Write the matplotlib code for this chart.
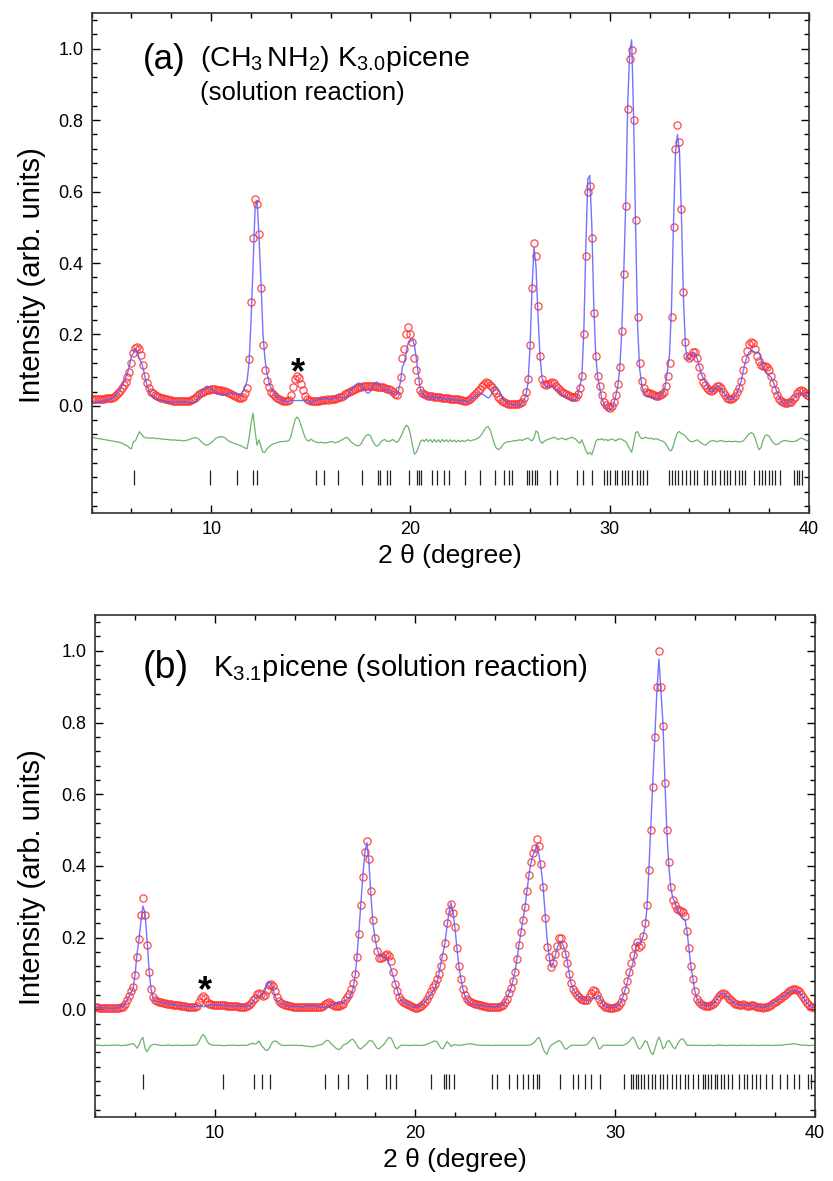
import numpy as np
import matplotlib.pyplot as plt
from matplotlib.ticker import MultipleLocator, FixedLocator, FormatStrFormatter

plt.rcParams['font.family'] = ['Liberation Sans', 'DejaVu Sans']
plt.rcParams['mathtext.fontset'] = 'custom'
plt.rcParams['mathtext.rm'] = 'Liberation Sans'
plt.rcParams['mathtext.it'] = 'Liberation Sans:italic'
plt.rcParams['mathtext.bf'] = 'Liberation Sans:bold'

# === step scan, 4.0 - 40.0 deg, 0.1 deg step ===
two_theta = np.round(np.linspace(4.0, 40.0, 361), 1)

# --- (a) (CH3NH2) K3.0 picene : observed intensity ---
obs_a = [
    0.020, 0.020, 0.019, 0.020, 0.020, 0.019, 0.020, 0.021, 0.021, 0.022,
    0.022, 0.024, 0.030, 0.036, 0.042, 0.050, 0.058, 0.068, 0.080, 0.095,
    0.120, 0.148, 0.163, 0.166, 0.158, 0.142, 0.115, 0.085, 0.064, 0.050,
    0.040, 0.035, 0.031, 0.028, 0.025, 0.023, 0.022, 0.020, 0.018, 0.017,
    0.016, 0.015, 0.015, 0.014, 0.014, 0.014, 0.013, 0.014, 0.014, 0.015,
    0.016, 0.018, 0.022, 0.027, 0.032, 0.037, 0.040, 0.043, 0.045, 0.045,
    0.046, 0.047, 0.046, 0.045, 0.045, 0.044, 0.043, 0.042, 0.040, 0.037,
    0.034, 0.030, 0.027, 0.025, 0.023, 0.022, 0.026, 0.035, 0.050, 0.130,
    0.290, 0.470, 0.580, 0.565, 0.480, 0.330, 0.170, 0.100, 0.070, 0.052,
    0.040, 0.033, 0.027, 0.022, 0.018, 0.016, 0.014, 0.013, 0.013, 0.016,
    0.030, 0.052, 0.075, 0.084, 0.078, 0.062, 0.045, 0.028, 0.019, 0.016,
    0.015, 0.015, 0.014, 0.015, 0.015, 0.016, 0.016, 0.017, 0.018, 0.017,
    0.018, 0.019, 0.020, 0.022, 0.024, 0.026, 0.029, 0.032, 0.036, 0.040,
    0.042, 0.045, 0.048, 0.050, 0.052, 0.054, 0.055, 0.056, 0.055, 0.056,
    0.056, 0.055, 0.055, 0.054, 0.054, 0.052, 0.052, 0.050, 0.048, 0.046,
    0.044, 0.040, 0.034, 0.030, 0.045, 0.080, 0.135, 0.160, 0.200, 0.220,
    0.200, 0.178, 0.135, 0.100, 0.070, 0.045, 0.035, 0.032, 0.030, 0.029,
    0.028, 0.027, 0.026, 0.025, 0.025, 0.024, 0.023, 0.022, 0.022, 0.021,
    0.020, 0.020, 0.019, 0.018, 0.018, 0.017, 0.016, 0.015, 0.015, 0.016,
    0.020, 0.025, 0.030, 0.036, 0.042, 0.048, 0.055, 0.062, 0.066, 0.064,
    0.058, 0.052, 0.045, 0.035, 0.025, 0.018, 0.013, 0.010, 0.008, 0.006,
    0.005, 0.004, 0.004, 0.005, 0.006, 0.008, 0.012, 0.022, 0.040, 0.075,
    0.170, 0.330, 0.455, 0.420, 0.280, 0.140, 0.075, 0.062, 0.058, 0.060,
    0.064, 0.066, 0.063, 0.057, 0.050, 0.045, 0.040, 0.036, 0.033, 0.030,
    0.028, 0.026, 0.025, 0.026, 0.032, 0.050, 0.085, 0.200, 0.420, 0.600,
    0.615, 0.470, 0.260, 0.140, 0.085, 0.055, 0.030, 0.012, 0.002, -0.004,
    -0.005, 0.000, 0.010, 0.030, 0.060, 0.110, 0.210, 0.370, 0.560, 0.830,
    0.970, 0.995, 0.800, 0.520, 0.250, 0.120, 0.070, 0.050, 0.040, 0.036,
    0.035, 0.032, 0.030, 0.028, 0.028, 0.030, 0.033, 0.040, 0.055, 0.085,
    0.120, 0.250, 0.500, 0.720, 0.785, 0.740, 0.550, 0.320, 0.180, 0.140,
    0.135, 0.140, 0.150, 0.150, 0.135, 0.110, 0.085, 0.068, 0.058, 0.050,
    0.045, 0.042, 0.045, 0.050, 0.055, 0.055, 0.050, 0.040, 0.030, 0.022,
    0.018, 0.018, 0.022, 0.028, 0.038, 0.050, 0.070, 0.100, 0.130, 0.155,
    0.172, 0.180, 0.175, 0.160, 0.140, 0.125, 0.115, 0.112, 0.112, 0.108,
    0.100, 0.085, 0.065, 0.045, 0.030, 0.020, 0.014, 0.010, 0.008, 0.008,
    0.010, 0.012, 0.018, 0.026, 0.035, 0.042, 0.045, 0.042, 0.036, 0.030,
    0.028,
]

# --- (a) difference curve (obs - calc), drawn with -0.1 offset ---
diff_a = [
    -0.088, -0.089, -0.090, -0.091, -0.092, -0.093, -0.094, -0.095, -0.096, -0.097,
    -0.098, -0.099, -0.100, -0.101, -0.102, -0.104, -0.107, -0.110, -0.112, -0.118,
    -0.120, -0.100, -0.098, -0.085, -0.072, -0.080, -0.086, -0.089, -0.090, -0.090,
    -0.090, -0.090, -0.091, -0.092, -0.091, -0.093, -0.093, -0.094, -0.094, -0.095,
    -0.095, -0.096, -0.095, -0.097, -0.096, -0.097, -0.098, -0.097, -0.096, -0.094,
    -0.092, -0.090, -0.089, -0.090, -0.094, -0.100, -0.105, -0.109, -0.110, -0.107,
    -0.103, -0.098, -0.092, -0.089, -0.087, -0.086, -0.087, -0.090, -0.095, -0.099,
    -0.102, -0.104, -0.106, -0.108, -0.110, -0.112, -0.115, -0.118, -0.120, -0.090,
    -0.050, -0.020, -0.070, -0.110, -0.095, -0.115, -0.130, -0.130, -0.120, -0.115,
    -0.110, -0.107, -0.105, -0.103, -0.101, -0.100, -0.100, -0.099, -0.099, -0.097,
    -0.085, -0.063, -0.040, -0.031, -0.037, -0.053, -0.070, -0.087, -0.096, -0.099,
    -0.093, -0.097, -0.100, -0.102, -0.103, -0.102, -0.103, -0.104, -0.103, -0.102,
    -0.100, -0.101, -0.103, -0.102, -0.100, -0.097, -0.094, -0.090, -0.088, -0.092,
    -0.100, -0.104, -0.108, -0.111, -0.112, -0.108, -0.098, -0.088, -0.082, -0.080,
    -0.085, -0.098, -0.108, -0.113, -0.110, -0.102, -0.097, -0.094, -0.098, -0.100,
    -0.098, -0.094, -0.098, -0.102, -0.098, -0.088, -0.075, -0.062, -0.054, -0.060,
    -0.080, -0.110, -0.135, -0.130, -0.115, -0.100, -0.095, -0.100, -0.093, -0.100,
    -0.094, -0.102, -0.094, -0.101, -0.095, -0.102, -0.094, -0.100, -0.095, -0.101,
    -0.095, -0.100, -0.096, -0.101, -0.096, -0.100, -0.097, -0.100, -0.097, -0.095,
    -0.098, -0.096, -0.095, -0.093, -0.090, -0.085, -0.078, -0.068, -0.060, -0.058,
    -0.068, -0.085, -0.105, -0.118, -0.122, -0.120, -0.112, -0.105, -0.102, -0.100,
    -0.100, -0.099, -0.097, -0.098, -0.096, -0.095, -0.097, -0.094, -0.092, -0.090,
    -0.095, -0.098, -0.090, -0.070, -0.075, -0.098, -0.105, -0.100, -0.096, -0.094,
    -0.092, -0.090, -0.088, -0.090, -0.094, -0.092, -0.090, -0.093, -0.095, -0.092,
    -0.090, -0.088, -0.090, -0.094, -0.100, -0.105, -0.095, -0.110, -0.125, -0.135,
    -0.130, -0.137, -0.120, -0.100, -0.093, -0.095, -0.092, -0.096, -0.094, -0.097,
    -0.095, -0.093, -0.095, -0.098, -0.094, -0.092, -0.094, -0.097, -0.100, -0.110,
    -0.120, -0.130, -0.105, -0.075, -0.072, -0.085, -0.092, -0.090, -0.088, -0.090,
    -0.092, -0.090, -0.094, -0.092, -0.093, -0.096, -0.098, -0.100, -0.105, -0.115,
    -0.125, -0.125, -0.110, -0.090, -0.075, -0.072, -0.078, -0.080, -0.085, -0.092,
    -0.098, -0.100, -0.100, -0.097, -0.095, -0.100, -0.104, -0.108, -0.110, -0.106,
    -0.100, -0.098, -0.097, -0.099, -0.100, -0.098, -0.097, -0.099, -0.100, -0.100,
    -0.099, -0.100, -0.100, -0.099, -0.100, -0.101, -0.100, -0.098, -0.092, -0.084,
    -0.078, -0.075, -0.078, -0.090, -0.110, -0.123, -0.115, -0.095, -0.083, -0.081,
    -0.085, -0.095, -0.103, -0.108, -0.108, -0.105, -0.100, -0.098, -0.097, -0.098,
    -0.099, -0.100, -0.100, -0.099, -0.097, -0.093, -0.090, -0.092, -0.095, -0.098,
    -0.098,
]

# --- (a) Bragg reflection positions ---
ticks_a = [6.13, 9.94, 11.32, 12.09, 12.29, 15.25, 15.68, 16.35, 17.56, 18.36,
           18.48, 18.81, 18.98, 19.95, 20.35, 20.45, 20.52, 21.07, 21.35, 21.66,
           21.91, 22.75, 23.50, 24.25, 24.67, 24.92, 25.09, 25.84, 25.97, 26.10,
           26.24, 26.34, 27.01, 27.35, 28.35, 28.68, 29.10, 29.69, 29.86, 30.02,
           30.27, 30.36, 30.61, 30.77, 30.94, 31.11, 31.36, 31.53, 31.69, 31.87,
           32.95, 33.12, 33.29, 33.45, 33.62, 33.84, 34.01, 34.21, 34.37, 34.71,
           34.88, 35.13, 35.29, 35.55, 35.71, 35.88, 36.05, 36.30, 36.47, 36.63,
           36.80, 37.22, 37.47, 37.64, 37.80, 37.97, 38.14, 38.31, 38.56, 39.23,
           39.40, 39.48, 39.65]

# --- (b) K3.1 picene : observed intensity ---
obs_b = [
    0.006, 0.006, 0.005, 0.005, 0.004, 0.004, 0.004, 0.003, 0.003, 0.003,
    0.004, 0.004, 0.005, 0.006, 0.008, 0.015, 0.026, 0.038, 0.050, 0.062,
    0.095, 0.145, 0.195, 0.262, 0.310, 0.262, 0.180, 0.105, 0.058, 0.035,
    0.027, 0.024, 0.022, 0.020, 0.018, 0.017, 0.016, 0.015, 0.014, 0.013,
    0.012, 0.011, 0.011, 0.010, 0.009, 0.009, 0.008, 0.008, 0.008, 0.007,
    0.008, 0.010, 0.020, 0.033, 0.038, 0.033, 0.022, 0.016, 0.014, 0.013,
    0.013, 0.012, 0.012, 0.012, 0.011, 0.011, 0.010, 0.010, 0.010, 0.009,
    0.009, 0.009, 0.008, 0.008, 0.008, 0.008, 0.010, 0.012, 0.018, 0.025,
    0.033, 0.042, 0.046, 0.042, 0.038, 0.040, 0.055, 0.068, 0.072, 0.066,
    0.050, 0.035, 0.024, 0.018, 0.014, 0.012, 0.011, 0.010, 0.009, 0.008,
    0.008, 0.008, 0.007, 0.007, 0.006, 0.006, 0.006, 0.006, 0.006, 0.007,
    0.007, 0.007, 0.008, 0.008, 0.010, 0.014, 0.019, 0.020, 0.016, 0.011,
    0.009, 0.009, 0.010, 0.012, 0.016, 0.025, 0.034, 0.043, 0.056, 0.075,
    0.100, 0.145, 0.210, 0.290, 0.370, 0.440, 0.470, 0.420, 0.330, 0.250,
    0.200, 0.162, 0.143, 0.142, 0.145, 0.152, 0.155, 0.150, 0.135, 0.105,
    0.072, 0.050, 0.035, 0.025, 0.020, 0.018, 0.015, 0.012, 0.010, 0.007,
    0.005, 0.005, 0.007, 0.010, 0.015, 0.022, 0.030, 0.040, 0.050, 0.062,
    0.072, 0.085, 0.100, 0.120, 0.145, 0.185, 0.240, 0.275, 0.295, 0.270,
    0.230, 0.170, 0.120, 0.085, 0.058, 0.040, 0.030, 0.024, 0.020, 0.018,
    0.016, 0.014, 0.012, 0.011, 0.010, 0.009, 0.008, 0.007, 0.007, 0.006,
    0.006, 0.007, 0.008, 0.010, 0.013, 0.020, 0.030, 0.045, 0.060, 0.080,
    0.105, 0.140, 0.180, 0.215, 0.250, 0.285, 0.330, 0.375, 0.410, 0.435,
    0.450, 0.476, 0.455, 0.405, 0.340, 0.255, 0.175, 0.145, 0.118, 0.130,
    0.155, 0.178, 0.198, 0.200, 0.180, 0.155, 0.130, 0.100, 0.075, 0.058,
    0.048, 0.040, 0.035, 0.030, 0.027, 0.025, 0.027, 0.035, 0.045, 0.053,
    0.050, 0.040, 0.028, 0.018, 0.012, 0.008, 0.006, 0.005, 0.004, 0.005,
    0.006, 0.008, 0.012, 0.020, 0.035, 0.055, 0.078, 0.105, 0.130, 0.152,
    0.175, 0.188, 0.175, 0.180, 0.205, 0.240, 0.290, 0.390, 0.500, 0.620,
    0.760, 0.900, 1.000, 0.900, 0.790, 0.630, 0.500, 0.410, 0.340, 0.305,
    0.290, 0.280, 0.277, 0.275, 0.272, 0.260, 0.220, 0.170, 0.120, 0.085,
    0.050, 0.030, 0.020, 0.015, 0.012, 0.010, 0.009, 0.010, 0.012, 0.015,
    0.020, 0.030, 0.038, 0.044, 0.045, 0.042, 0.036, 0.030, 0.025, 0.020,
    0.016, 0.014, 0.012, 0.013, 0.014, 0.012, 0.010, 0.010, 0.012, 0.012,
    0.010, 0.008, 0.007, 0.006, 0.005, 0.006, 0.008, 0.010, 0.013, 0.017,
    0.020, 0.024, 0.028, 0.032, 0.036, 0.040, 0.045, 0.050, 0.054, 0.056,
    0.057, 0.055, 0.050, 0.043, 0.035, 0.026, 0.018, 0.012, 0.008, 0.006,
    0.005,
]

# --- (b) difference curve (obs - calc), drawn with -0.1 offset ---
diff_b = [
    -0.098, -0.099, -0.100, -0.100, -0.101, -0.100, -0.100, -0.101, -0.100, -0.100,
    -0.100, -0.099, -0.100, -0.101, -0.100, -0.100, -0.099, -0.098, -0.097, -0.095,
    -0.100, -0.108, -0.100, -0.085, -0.078, -0.108, -0.118, -0.108, -0.100, -0.098,
    -0.097, -0.098, -0.100, -0.100, -0.101, -0.100, -0.100, -0.099, -0.100, -0.101,
    -0.100, -0.100, -0.100, -0.100, -0.101, -0.100, -0.100, -0.100, -0.100, -0.100,
    -0.100, -0.098, -0.090, -0.078, -0.070, -0.075, -0.088, -0.096, -0.098, -0.100,
    -0.100, -0.100, -0.100, -0.100, -0.101, -0.101, -0.100, -0.100, -0.100, -0.100,
    -0.100, -0.100, -0.101, -0.100, -0.100, -0.100, -0.100, -0.098, -0.096, -0.094,
    -0.097, -0.094, -0.088, -0.098, -0.105, -0.112, -0.115, -0.110, -0.098, -0.090,
    -0.088, -0.090, -0.095, -0.099, -0.100, -0.101, -0.100, -0.100, -0.100, -0.100,
    -0.100, -0.100, -0.101, -0.100, -0.101, -0.102, -0.103, -0.103, -0.104, -0.104,
    -0.103, -0.100, -0.100, -0.098, -0.096, -0.090, -0.086, -0.088, -0.095, -0.100,
    -0.106, -0.110, -0.112, -0.108, -0.100, -0.097, -0.095, -0.090, -0.085, -0.083,
    -0.090, -0.100, -0.108, -0.110, -0.105, -0.100, -0.095, -0.088, -0.087, -0.090,
    -0.100, -0.108, -0.110, -0.105, -0.100, -0.094, -0.085, -0.078, -0.080, -0.090,
    -0.105, -0.110, -0.105, -0.100, -0.100, -0.100, -0.100, -0.101, -0.100, -0.100,
    -0.100, -0.100, -0.100, -0.101, -0.100, -0.099, -0.097, -0.095, -0.092, -0.090,
    -0.088, -0.090, -0.100, -0.108, -0.110, -0.100, -0.090, -0.095, -0.103, -0.100,
    -0.098, -0.100, -0.100, -0.100, -0.099, -0.098, -0.097, -0.096, -0.096, -0.097,
    -0.098, -0.099, -0.100, -0.100, -0.100, -0.100, -0.100, -0.100, -0.101, -0.100,
    -0.100, -0.100, -0.100, -0.100, -0.100, -0.100, -0.100, -0.100, -0.100, -0.100,
    -0.100, -0.100, -0.100, -0.100, -0.100, -0.100, -0.100, -0.100, -0.098, -0.095,
    -0.090, -0.082, -0.078, -0.090, -0.108, -0.120, -0.125, -0.110, -0.100, -0.097,
    -0.093, -0.090, -0.087, -0.090, -0.100, -0.110, -0.110, -0.105, -0.100, -0.100,
    -0.100, -0.100, -0.100, -0.100, -0.100, -0.100, -0.098, -0.092, -0.085, -0.078,
    -0.080, -0.095, -0.110, -0.108, -0.100, -0.100, -0.100, -0.100, -0.100, -0.100,
    -0.100, -0.100, -0.100, -0.100, -0.100, -0.098, -0.095, -0.090, -0.083, -0.077,
    -0.085, -0.100, -0.110, -0.108, -0.098, -0.088, -0.090, -0.105, -0.120, -0.126,
    -0.110, -0.090, -0.077, -0.090, -0.110, -0.105, -0.090, -0.087, -0.095, -0.105,
    -0.110, -0.100, -0.090, -0.083, -0.082, -0.090, -0.100, -0.100, -0.100, -0.100,
    -0.100, -0.100, -0.101, -0.100, -0.100, -0.101, -0.100, -0.100, -0.100, -0.101,
    -0.100, -0.100, -0.099, -0.100, -0.100, -0.100, -0.101, -0.100, -0.100, -0.100,
    -0.100, -0.101, -0.100, -0.100, -0.100, -0.100, -0.101, -0.100, -0.100, -0.100,
    -0.100, -0.100, -0.101, -0.100, -0.100, -0.100, -0.100, -0.100, -0.101, -0.100,
    -0.100, -0.100, -0.100, -0.100, -0.099, -0.098, -0.098, -0.097, -0.097, -0.096,
    -0.096, -0.097, -0.098, -0.099, -0.100, -0.100, -0.100, -0.101, -0.100, -0.100,
    -0.100,
]

# --- (b) Bragg reflection positions ---
ticks_b = [6.40, 10.41, 11.97, 12.33, 12.73, 15.52, 16.16, 16.64, 17.60, 18.56,
           18.75, 19.04, 20.79, 21.44, 21.56, 21.68, 21.97, 23.84, 24.08, 24.68,
           25.08, 25.40, 25.64, 25.88, 26.12, 26.19, 27.24, 27.91, 28.15, 28.51,
           28.82, 29.23, 30.43, 30.79, 30.91, 31.03, 31.15, 31.32, 31.46, 31.63,
           31.87, 31.99, 32.23, 32.42, 32.59, 32.83, 33.07, 33.24, 33.48, 33.67,
           33.91, 34.15, 34.39, 34.51, 34.63, 34.82, 34.99, 35.11, 35.30, 35.47,
           35.64, 35.83, 36.19, 36.43, 36.62, 36.83, 37.03, 37.27, 37.55, 37.87,
           38.23, 38.59, 38.94, 39.18, 39.66, 39.78]

OFFSET = -0.1


def draw_panel(ax, obs, diff, ticks, ylab_x, ylab_y):
    obs = np.array(obs)
    diff = np.array(diff)
    calc = obs - (diff - OFFSET)

    ax.plot(two_theta, obs, 'o', mfc='none', mec='#ff3535', ms=5.2, mew=0.9, alpha=0.9)
    ax.plot(two_theta, calc, '-', color='#5a5aff', lw=1.0, alpha=0.85)
    ax.plot(two_theta, diff, '-', color='#6cb46c', lw=0.9)
    ax.vlines(ticks, -0.222, -0.180, color='#222222', lw=0.9)

    ax.set_xlim(4, 40)
    ax.set_ylim(-0.3, 1.1)
    ax.xaxis.set_major_locator(MultipleLocator(10))
    ax.xaxis.set_minor_locator(MultipleLocator(2))
    ax.yaxis.set_major_locator(FixedLocator([0.0, 0.2, 0.4, 0.6, 0.8, 1.0]))
    ax.yaxis.set_minor_locator(MultipleLocator(0.04))
    ax.yaxis.set_major_formatter(FormatStrFormatter('%.1f'))
    ax.tick_params(which='both', direction='in', top=True, right=True, width=1.0,
                   labelsize=13)
    ax.tick_params(which='major', length=6, pad=6)
    ax.tick_params(which='minor', length=3.5)
    for sp in ax.spines.values():
        sp.set_linewidth(1.2)
        sp.set_color('#333333')
    ax.set_xlabel('2 θ (degree)', fontsize=19, labelpad=4)
    ax.set_ylabel('Intensity (arb. units)', fontsize=21)
    ax.yaxis.set_label_coords(ylab_x, ylab_y)


fig = plt.figure(figsize=(8.33, 11.81), dpi=100)
ax_a = fig.add_axes([0.1100, 0.5656, 0.8612, 0.4234])
ax_b = fig.add_axes([0.1140, 0.0542, 0.8643, 0.4251])

draw_panel(ax_a, obs_a, diff_a, ticks_a, -0.063, 0.476)
draw_panel(ax_b, obs_b, diff_b, ticks_b, -0.068, 0.478)

# panel labels and sample names
ax_a.text(6.55, 0.97, '(a)', fontsize=25, ha='left', va='center')
ax_a.text(9.45, 0.97, r'(CH$_3\,$NH$_2$) K$_{3.0}$picene', fontsize=20.5,
          ha='left', va='center')
ax_a.text(9.45, 0.877, '(solution reaction)', fontsize=18.5, ha='left', va='center')
ax_a.text(14.35, 0.064, '*', fontsize=26, fontweight='bold', ha='center',
          va='baseline')

ax_b.text(6.4, 0.951, '(b)', fontsize=27, ha='left', va='center')
ax_b.text(9.9, 0.951, 'K$_{3.1}$picene (solution reaction)', fontsize=21,
          ha='left', va='center')
ax_b.text(9.5, 0.022, '*', fontsize=26, fontweight='bold', ha='center',
          va='baseline')

fig.savefig('out.png', dpi=100)
